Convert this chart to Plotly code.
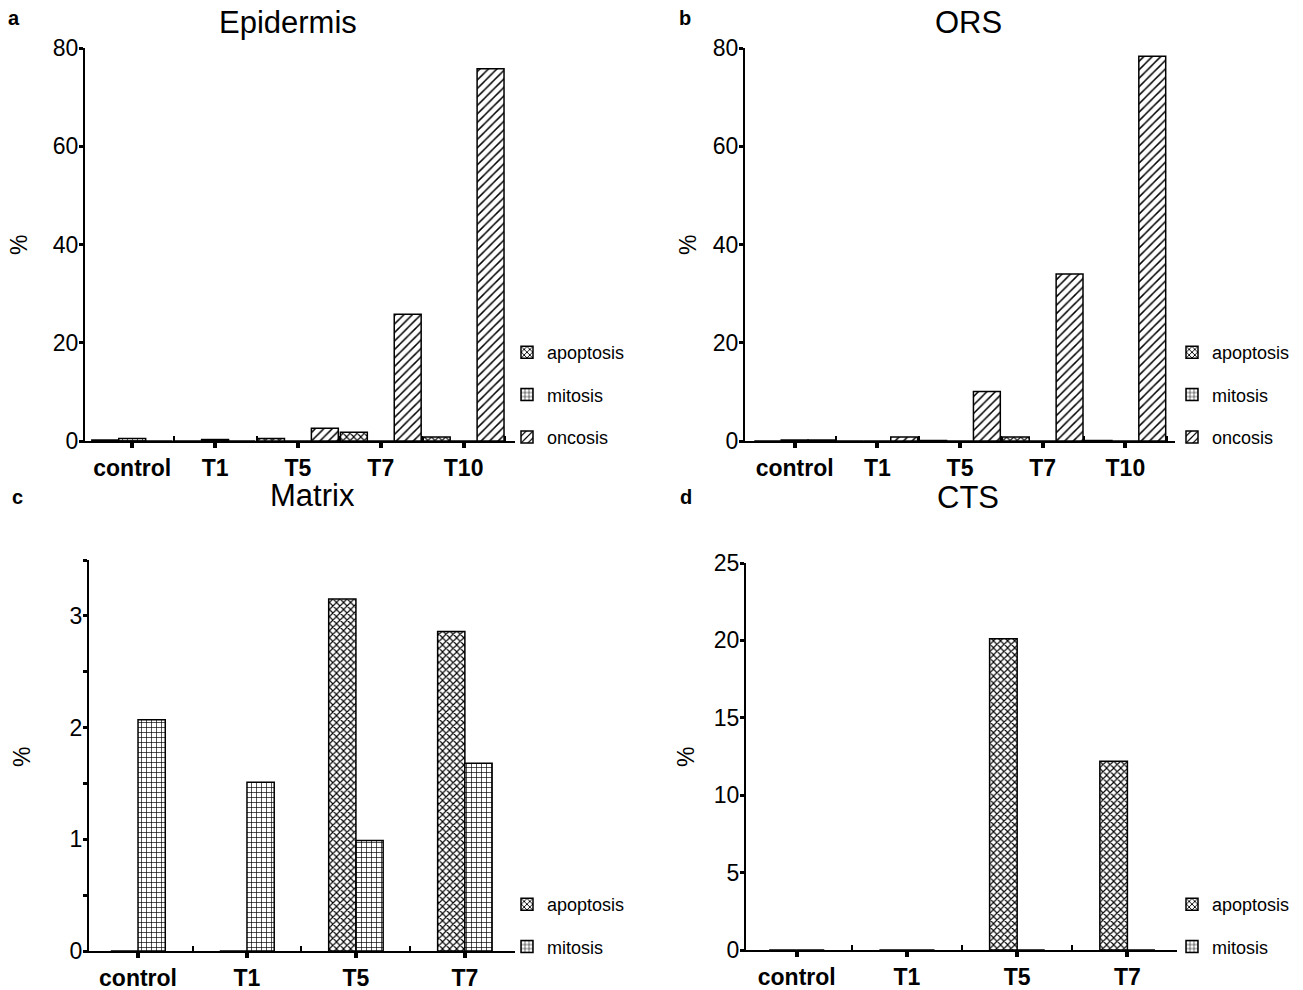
import plotly.graph_objects as go

# ---------------- data ----------------
categories_ab = ["control", "T1", "T5", "T7", "T10"]
epi_apoptosis = [0.2, 0.0, 0.5, 1.8, 0.8]
epi_mitosis = [0.5, 0.3, 0.0, 0.0, 0.0]
epi_oncosis = [0.0, 0.0, 2.6, 25.8, 75.8]

ors_apoptosis = [0.0, 0.0, 0.1, 0.8, 0.1]
ors_mitosis = [0.2, 0.0, 0.0, 0.0, 0.0]
ors_oncosis = [0.2, 0.8, 10.1, 34.0, 78.3]

categories_cd = ["control", "T1", "T5", "T7"]
mat_apoptosis = [0.0, 0.0, 3.15, 2.86]
mat_mitosis = [2.07, 1.51, 0.99, 1.68]

cts_apoptosis = [0.0, 0.0, 20.1, 12.2]
cts_mitosis = [0.0, 0.0, 0.0, 0.0]

yticks_ab = [0, 20, 40, 60, 80]
yticks_mat = [0, 1, 2, 3]
yticks_cts = [0, 5, 10, 15, 20, 25]

# ---------------- style ----------------
FONT = "Liberation Sans, Arial, sans-serif"
PATTERNS = {
    "apoptosis": dict(shape="x", size=5, solidity=0.4, fgcolor="black", bgcolor="white"),
    "mitosis": dict(shape="+", size=5, solidity=0.25, fgcolor="black", bgcolor="white"),
    "oncosis": dict(shape="/", size=6, solidity=0.25, fgcolor="black", bgcolor="white"),
}

fig = go.Figure()


def add_bars(cats, series, xa, ya, leg, width, offsets):
    xs = list(range(len(cats)))
    for (name, vals), off in zip(series, offsets):
        fig.add_trace(go.Bar(
            x=xs, y=vals, name=name, xaxis=xa, yaxis=ya, legend=leg,
            legendgroup=leg + name, width=width, offset=off,
            marker=dict(color="white", pattern=PATTERNS[name],
                        line=dict(color="black", width=1.5)),
            hoverinfo="x+y+name",
        ))


wa = 0.325
add_bars(categories_ab, [("apoptosis", epi_apoptosis), ("mitosis", epi_mitosis), ("oncosis", epi_oncosis)],
         "x", "y", "legend", wa, [-1.5 * wa, -0.5 * wa, 0.5 * wa])
add_bars(categories_ab, [("apoptosis", ors_apoptosis), ("mitosis", ors_mitosis), ("oncosis", ors_oncosis)],
         "x2", "y2", "legend2", wa, [-1.5 * wa, -0.5 * wa, 0.5 * wa])
wc = 0.25
add_bars(categories_cd, [("apoptosis", mat_apoptosis), ("mitosis", mat_mitosis)],
         "x3", "y3", "legend3", wc, [-wc, 0])
add_bars(categories_cd, [("apoptosis", cts_apoptosis), ("mitosis", cts_mitosis)],
         "x4", "y4", "legend4", wc, [-wc, 0])


def xaxis(cats, domain, rng, anchor):
    n = len(cats)
    return dict(
        domain=domain, anchor=anchor, range=rng, automargin=False,
        showline=True, linecolor="black", linewidth=2,
        ticks="outside", ticklen=5, tickwidth=4, tickcolor="black",
        tickmode="array", tickvals=list(range(n)),
        ticktext=["<b>%s</b>" % c for c in cats],
        tickfont=dict(size=23, family=FONT, color="black"),
        showgrid=False, zeroline=False,
        minor=dict(ticks="inside", tickmode="array",
                   tickvals=[i + 0.5 for i in range(n)],
                   ticklen=5, tickwidth=1.5, tickcolor="black", showgrid=False),
    )


def yaxis(domain, rng, tickvals, anchor, minor=None):
    d = dict(
        domain=domain, anchor=anchor, range=rng, automargin=False,
        showline=True, linecolor="black", linewidth=2,
        ticks="outside", ticklen=4, tickwidth=3, tickcolor="black",
        tickmode="array", tickvals=tickvals, ticklabelstandoff=-4,
        tickfont=dict(size=23, family=FONT, color="black"),
        showgrid=False, zeroline=False,
    )
    if minor is not None:
        d["minor"] = dict(ticks="outside", tickmode="array", tickvals=minor,
                          ticklen=4, tickwidth=3, tickcolor="black", showgrid=False)
    return d


W, H = 1303, 990
def px_x(a, b):
    return [a / W, b / W]
def px_y(top, bottom):
    return [1 - bottom / H, 1 - top / H]


def legend(x, y):
    return dict(x=x / W, y=1 - y / H, xanchor="left", yanchor="top",
                font=dict(size=18, family=FONT, color="black"),
                tracegroupgap=16, traceorder="grouped",
                bgcolor="rgba(0,0,0,0)", itemwidth=30)


fig.update_layout(
    template="none",
    width=W, height=H,
    margin=dict(l=0, r=0, t=0, b=0, autoexpand=False),
    plot_bgcolor="white", paper_bgcolor="white",
    barmode="group", showlegend=True,
    xaxis=xaxis(categories_ab, px_x(85, 515), [-0.57, 4.62], "y"),
    yaxis=yaxis(px_y(48, 441), [0, 80], yticks_ab, "x"),
    xaxis2=xaxis(categories_ab, px_x(745, 1175), [-0.6, 4.6], "y2"),
    yaxis2=yaxis(px_y(48, 441), [0, 80], yticks_ab, "x2"),
    xaxis3=xaxis(categories_cd, px_x(89, 515), [-0.45, 3.46], "y3"),
    yaxis3=yaxis(px_y(560, 951), [0, 3.5], yticks_mat, "x3", minor=[0.5, 1.5, 2.5, 3.5]),
    xaxis4=xaxis(categories_cd, px_x(746, 1177), [-0.46, 3.45], "y4"),
    yaxis4=yaxis(px_y(563, 950), [0, 25], yticks_cts, "x4"),
    legend=legend(507, 334),
    legend2=legend(1172, 334),
    legend3=legend(507, 886),
    legend4=legend(1172, 886),
)

annots = [
    ("a", 14, 18, 20, True), ("Epidermis", 288, 22, 31, False),
    ("b", 685, 18, 20, True), ("ORS", 968, 22, 31, False),
    ("c", 17, 497, 20, True), ("Matrix", 312, 495, 31, False),
    ("d", 686, 497, 20, True), ("CTS", 968, 497, 31, False),
]
for text, x, y, size, bold in annots:
    fig.add_annotation(
        text="<b>%s</b>" % text if bold else text, x=x / W, y=1 - y / H,
        xref="paper", yref="paper", showarrow=False, xanchor="center", yanchor="middle",
        font=dict(size=size, family=FONT, color="black"))

for x, y in [(19, 245), (688, 245), (22, 757), (686, 757)]:
    fig.add_annotation(
        text="%", x=x / W, y=1 - y / H, xref="paper", yref="paper", showarrow=False,
        textangle=-90, xanchor="center", yanchor="middle",
        font=dict(size=23, family=FONT, color="black"))

fig.write_html("out.html", config={"displayModeBar": False},
               post_script="document.body.style.margin='0';")
